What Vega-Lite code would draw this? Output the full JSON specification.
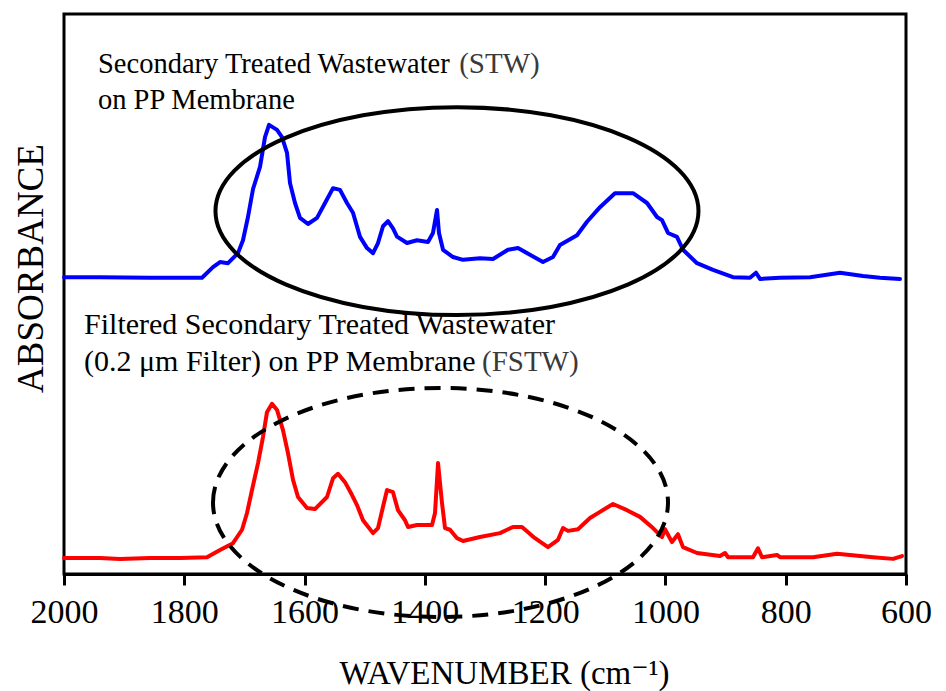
{
  "$schema": "https://vega.github.io/schema/vega-lite/v6.json",
  "width": 842,
  "height": 560,
  "autosize": {"type": "none"},
  "padding": {"left": 64, "top": 14, "right": 40, "bottom": 117},
  "background": "white",
  "config": {"view": {"stroke": "black", "strokeWidth": 3}, "font": "'Liberation Serif', 'Times New Roman', Times, 'DejaVu Serif', serif"},
  "datasets": {
    "spectra": [
      {"wavenumber": 2000, "absorbance": 0.530, "sample": "STW"},
      {"wavenumber": 1940.1, "absorbance": 0.530, "sample": "STW"},
      {"wavenumber": 1857, "absorbance": 0.529, "sample": "STW"},
      {"wavenumber": 1807.1, "absorbance": 0.529, "sample": "STW"},
      {"wavenumber": 1770.5, "absorbance": 0.529, "sample": "STW"},
      {"wavenumber": 1752.3, "absorbance": 0.548, "sample": "STW"},
      {"wavenumber": 1740.6, "absorbance": 0.557, "sample": "STW"},
      {"wavenumber": 1727.3, "absorbance": 0.555, "sample": "STW"},
      {"wavenumber": 1710.7, "absorbance": 0.573, "sample": "STW"},
      {"wavenumber": 1702.4, "absorbance": 0.596, "sample": "STW"},
      {"wavenumber": 1694.1, "absorbance": 0.6375, "sample": "STW"},
      {"wavenumber": 1685.7, "absorbance": 0.6875, "sample": "STW"},
      {"wavenumber": 1674.1, "absorbance": 0.727, "sample": "STW"},
      {"wavenumber": 1665.8, "absorbance": 0.780, "sample": "STW"},
      {"wavenumber": 1659.1, "absorbance": 0.802, "sample": "STW"},
      {"wavenumber": 1645.8, "absorbance": 0.793, "sample": "STW"},
      {"wavenumber": 1637.5, "absorbance": 0.780, "sample": "STW"},
      {"wavenumber": 1629.2, "absorbance": 0.752, "sample": "STW"},
      {"wavenumber": 1624.2, "absorbance": 0.698, "sample": "STW"},
      {"wavenumber": 1615.9, "absorbance": 0.6625, "sample": "STW"},
      {"wavenumber": 1607.6, "absorbance": 0.636, "sample": "STW"},
      {"wavenumber": 1594.3, "absorbance": 0.625, "sample": "STW"},
      {"wavenumber": 1579.3, "absorbance": 0.636, "sample": "STW"},
      {"wavenumber": 1566.0, "absorbance": 0.6625, "sample": "STW"},
      {"wavenumber": 1552.7, "absorbance": 0.689, "sample": "STW"},
      {"wavenumber": 1541.1, "absorbance": 0.686, "sample": "STW"},
      {"wavenumber": 1529.5, "absorbance": 0.6625, "sample": "STW"},
      {"wavenumber": 1519.5, "absorbance": 0.645, "sample": "STW"},
      {"wavenumber": 1507.8, "absorbance": 0.602, "sample": "STW"},
      {"wavenumber": 1496.2, "absorbance": 0.582, "sample": "STW"},
      {"wavenumber": 1486.2, "absorbance": 0.573, "sample": "STW"},
      {"wavenumber": 1477.9, "absorbance": 0.591, "sample": "STW"},
      {"wavenumber": 1469.6, "absorbance": 0.621, "sample": "STW"},
      {"wavenumber": 1461.3, "absorbance": 0.630, "sample": "STW"},
      {"wavenumber": 1453.0, "absorbance": 0.617, "sample": "STW"},
      {"wavenumber": 1446.3, "absorbance": 0.6025, "sample": "STW"},
      {"wavenumber": 1429.7, "absorbance": 0.591, "sample": "STW"},
      {"wavenumber": 1413.1, "absorbance": 0.596, "sample": "STW"},
      {"wavenumber": 1394.8, "absorbance": 0.593, "sample": "STW"},
      {"wavenumber": 1386.5, "absorbance": 0.609, "sample": "STW"},
      {"wavenumber": 1379.8, "absorbance": 0.650, "sample": "STW"},
      {"wavenumber": 1376.5, "absorbance": 0.609, "sample": "STW"},
      {"wavenumber": 1369.8, "absorbance": 0.579, "sample": "STW"},
      {"wavenumber": 1353.2, "absorbance": 0.566, "sample": "STW"},
      {"wavenumber": 1336.6, "absorbance": 0.561, "sample": "STW"},
      {"wavenumber": 1308.3, "absorbance": 0.564, "sample": "STW"},
      {"wavenumber": 1286.7, "absorbance": 0.5625, "sample": "STW"},
      {"wavenumber": 1261.8, "absorbance": 0.579, "sample": "STW"},
      {"wavenumber": 1245.1, "absorbance": 0.582, "sample": "STW"},
      {"wavenumber": 1225.2, "absorbance": 0.570, "sample": "STW"},
      {"wavenumber": 1203.6, "absorbance": 0.557, "sample": "STW"},
      {"wavenumber": 1187.0, "absorbance": 0.566, "sample": "STW"},
      {"wavenumber": 1175.3, "absorbance": 0.5875, "sample": "STW"},
      {"wavenumber": 1147.0, "absorbance": 0.605, "sample": "STW"},
      {"wavenumber": 1130.4, "absorbance": 0.629, "sample": "STW"},
      {"wavenumber": 1108.8, "absorbance": 0.655, "sample": "STW"},
      {"wavenumber": 1083.9, "absorbance": 0.680, "sample": "STW"},
      {"wavenumber": 1053.9, "absorbance": 0.680, "sample": "STW"},
      {"wavenumber": 1030.6, "absorbance": 0.6625, "sample": "STW"},
      {"wavenumber": 1014.0, "absorbance": 0.6375, "sample": "STW"},
      {"wavenumber": 1005.7, "absorbance": 0.632, "sample": "STW"},
      {"wavenumber": 995.7, "absorbance": 0.609, "sample": "STW"},
      {"wavenumber": 980.8, "absorbance": 0.602, "sample": "STW"},
      {"wavenumber": 970.8, "absorbance": 0.579, "sample": "STW"},
      {"wavenumber": 947.5, "absorbance": 0.555, "sample": "STW"},
      {"wavenumber": 920.9, "absorbance": 0.543, "sample": "STW"},
      {"wavenumber": 887.7, "absorbance": 0.530, "sample": "STW"},
      {"wavenumber": 859.4, "absorbance": 0.529, "sample": "STW"},
      {"wavenumber": 849.4, "absorbance": 0.538, "sample": "STW"},
      {"wavenumber": 842.8, "absorbance": 0.527, "sample": "STW"},
      {"wavenumber": 809.5, "absorbance": 0.529, "sample": "STW"},
      {"wavenumber": 759.6, "absorbance": 0.530, "sample": "STW"},
      {"wavenumber": 709.7, "absorbance": 0.538, "sample": "STW"},
      {"wavenumber": 671.5, "absorbance": 0.532, "sample": "STW"},
      {"wavenumber": 643.3, "absorbance": 0.529, "sample": "STW"},
      {"wavenumber": 610.0, "absorbance": 0.527, "sample": "STW"},
      {"wavenumber": 2000, "absorbance": 0.0286, "sample": "FSTW"},
      {"wavenumber": 1940.1, "absorbance": 0.0286, "sample": "FSTW"},
      {"wavenumber": 1906.9, "absorbance": 0.027, "sample": "FSTW"},
      {"wavenumber": 1857, "absorbance": 0.0286, "sample": "FSTW"},
      {"wavenumber": 1807.1, "absorbance": 0.0286, "sample": "FSTW"},
      {"wavenumber": 1762.2, "absorbance": 0.030, "sample": "FSTW"},
      {"wavenumber": 1740.6, "absorbance": 0.043, "sample": "FSTW"},
      {"wavenumber": 1719.0, "absorbance": 0.055, "sample": "FSTW"},
      {"wavenumber": 1704.0, "absorbance": 0.079, "sample": "FSTW"},
      {"wavenumber": 1695.7, "absorbance": 0.109, "sample": "FSTW"},
      {"wavenumber": 1687.4, "absorbance": 0.150, "sample": "FSTW"},
      {"wavenumber": 1677.4, "absorbance": 0.198, "sample": "FSTW"},
      {"wavenumber": 1669.1, "absorbance": 0.245, "sample": "FSTW"},
      {"wavenumber": 1662.5, "absorbance": 0.289, "sample": "FSTW"},
      {"wavenumber": 1654.2, "absorbance": 0.304, "sample": "FSTW"},
      {"wavenumber": 1645.8, "absorbance": 0.293, "sample": "FSTW"},
      {"wavenumber": 1635.9, "absorbance": 0.257, "sample": "FSTW"},
      {"wavenumber": 1627.6, "absorbance": 0.216, "sample": "FSTW"},
      {"wavenumber": 1619.2, "absorbance": 0.168, "sample": "FSTW"},
      {"wavenumber": 1610.9, "absorbance": 0.1375, "sample": "FSTW"},
      {"wavenumber": 1596.0, "absorbance": 0.118, "sample": "FSTW"},
      {"wavenumber": 1582.7, "absorbance": 0.116, "sample": "FSTW"},
      {"wavenumber": 1562.7, "absorbance": 0.1375, "sample": "FSTW"},
      {"wavenumber": 1552.7, "absorbance": 0.171, "sample": "FSTW"},
      {"wavenumber": 1544.4, "absorbance": 0.179, "sample": "FSTW"},
      {"wavenumber": 1532.8, "absorbance": 0.164, "sample": "FSTW"},
      {"wavenumber": 1521.1, "absorbance": 0.141, "sample": "FSTW"},
      {"wavenumber": 1512.8, "absorbance": 0.123, "sample": "FSTW"},
      {"wavenumber": 1502.8, "absorbance": 0.096, "sample": "FSTW"},
      {"wavenumber": 1486.2, "absorbance": 0.073, "sample": "FSTW"},
      {"wavenumber": 1477.9, "absorbance": 0.082, "sample": "FSTW"},
      {"wavenumber": 1469.6, "absorbance": 0.120, "sample": "FSTW"},
      {"wavenumber": 1462.9, "absorbance": 0.150, "sample": "FSTW"},
      {"wavenumber": 1453.0, "absorbance": 0.146, "sample": "FSTW"},
      {"wavenumber": 1444.7, "absorbance": 0.114, "sample": "FSTW"},
      {"wavenumber": 1433.0, "absorbance": 0.096, "sample": "FSTW"},
      {"wavenumber": 1428.0, "absorbance": 0.084, "sample": "FSTW"},
      {"wavenumber": 1413.1, "absorbance": 0.0875, "sample": "FSTW"},
      {"wavenumber": 1388.1, "absorbance": 0.0875, "sample": "FSTW"},
      {"wavenumber": 1383.1, "absorbance": 0.109, "sample": "FSTW"},
      {"wavenumber": 1378.1, "absorbance": 0.198, "sample": "FSTW"},
      {"wavenumber": 1371.5, "absorbance": 0.127, "sample": "FSTW"},
      {"wavenumber": 1366.5, "absorbance": 0.082, "sample": "FSTW"},
      {"wavenumber": 1358.2, "absorbance": 0.079, "sample": "FSTW"},
      {"wavenumber": 1346.5, "absorbance": 0.064, "sample": "FSTW"},
      {"wavenumber": 1336.6, "absorbance": 0.059, "sample": "FSTW"},
      {"wavenumber": 1308.3, "absorbance": 0.066, "sample": "FSTW"},
      {"wavenumber": 1275.1, "absorbance": 0.073, "sample": "FSTW"},
      {"wavenumber": 1253.5, "absorbance": 0.084, "sample": "FSTW"},
      {"wavenumber": 1238.5, "absorbance": 0.084, "sample": "FSTW"},
      {"wavenumber": 1216.9, "absorbance": 0.064, "sample": "FSTW"},
      {"wavenumber": 1195.3, "absorbance": 0.048, "sample": "FSTW"},
      {"wavenumber": 1178.6, "absorbance": 0.061, "sample": "FSTW"},
      {"wavenumber": 1170.3, "absorbance": 0.082, "sample": "FSTW"},
      {"wavenumber": 1162.0, "absorbance": 0.077, "sample": "FSTW"},
      {"wavenumber": 1145.4, "absorbance": 0.080, "sample": "FSTW"},
      {"wavenumber": 1125.4, "absorbance": 0.100, "sample": "FSTW"},
      {"wavenumber": 1108.8, "absorbance": 0.111, "sample": "FSTW"},
      {"wavenumber": 1087.2, "absorbance": 0.125, "sample": "FSTW"},
      {"wavenumber": 1063.9, "absorbance": 0.114, "sample": "FSTW"},
      {"wavenumber": 1042.3, "absorbance": 0.102, "sample": "FSTW"},
      {"wavenumber": 1020.7, "absorbance": 0.082, "sample": "FSTW"},
      {"wavenumber": 1005.7, "absorbance": 0.066, "sample": "FSTW"},
      {"wavenumber": 1000.7, "absorbance": 0.080, "sample": "FSTW"},
      {"wavenumber": 989.1, "absorbance": 0.057, "sample": "FSTW"},
      {"wavenumber": 979.1, "absorbance": 0.071, "sample": "FSTW"},
      {"wavenumber": 970.8, "absorbance": 0.048, "sample": "FSTW"},
      {"wavenumber": 947.5, "absorbance": 0.0375, "sample": "FSTW"},
      {"wavenumber": 909.3, "absorbance": 0.032, "sample": "FSTW"},
      {"wavenumber": 900.9, "absorbance": 0.0375, "sample": "FSTW"},
      {"wavenumber": 896.0, "absorbance": 0.030, "sample": "FSTW"},
      {"wavenumber": 854.4, "absorbance": 0.030, "sample": "FSTW"},
      {"wavenumber": 846.1, "absorbance": 0.046, "sample": "FSTW"},
      {"wavenumber": 839.4, "absorbance": 0.030, "sample": "FSTW"},
      {"wavenumber": 814.5, "absorbance": 0.034, "sample": "FSTW"},
      {"wavenumber": 809.5, "absorbance": 0.030, "sample": "FSTW"},
      {"wavenumber": 754.6, "absorbance": 0.030, "sample": "FSTW"},
      {"wavenumber": 714.7, "absorbance": 0.036, "sample": "FSTW"},
      {"wavenumber": 654.9, "absorbance": 0.030, "sample": "FSTW"},
      {"wavenumber": 621.6, "absorbance": 0.027, "sample": "FSTW"},
      {"wavenumber": 606.7, "absorbance": 0.032, "sample": "FSTW"}
    ],
    "labels": [
      {"label": "Secondary Treated Wastewater", "wavenumber": 1943.5, "absorbance": 0.8946, "group": "STW", "part": "main"},
      {"label": "(STW)", "wavenumber": 1343.0, "absorbance": 0.8946, "group": "STW", "part": "abbr"},
      {"label": "on PP Membrane", "wavenumber": 1943.5, "absorbance": 0.8304, "group": "STW", "part": "main"},
      {"label": "Filtered Secondary Treated Wastewater", "wavenumber": 1966.7, "absorbance": 0.4286, "group": "FSTW", "part": "main"},
      {"label": "(0.2 μm Filter) on PP Membrane", "wavenumber": 1966.7, "absorbance": 0.3625, "group": "FSTW", "part": "main"},
      {"label": "(FSTW)", "wavenumber": 1305.0, "absorbance": 0.3625, "group": "FSTW", "part": "abbr"}
    ],
    "ellipses": [
      {"wavenumber": 1346.6, "absorbance": 0.648, "kind": "STW"},
      {"wavenumber": 1374.0, "absorbance": 0.1277, "kind": "FSTW"}
    ]
  },
  "encoding": {
    "x": {
      "field": "wavenumber",
      "type": "quantitative",
      "scale": {"domain": [600, 2000], "reverse": true, "nice": false, "zero": false},
      "axis": {
        "values": [2000, 1800, 1600, 1400, 1200, 1000, 800, 600],
        "format": "d",
        "title": "WAVENUMBER (cm⁻¹)",
        "grid": false,
        "domainColor": "black",
        "domainWidth": 3,
        "tickColor": "black",
        "tickWidth": 3,
        "tickSize": 11,
        "labelFont": "'Liberation Serif', 'Times New Roman', Times, 'DejaVu Serif', serif",
        "labelFontSize": 34,
        "labelColor": "black",
        "labelPadding": 10,
        "labelFlush": false,
        "labelOverlap": false,
        "labelBound": false,
        "titleFont": "'Liberation Serif', 'Times New Roman', Times, 'DejaVu Serif', serif",
        "titleFontSize": 33,
        "titleFontWeight": "normal",
        "titleColor": "black",
        "titleBaseline": "alphabetic",
        "titleAlign": "center",
        "titleX": 440,
        "titleY": 109
      }
    },
    "y": {
      "field": "absorbance",
      "type": "quantitative",
      "scale": {"domain": [0, 1], "nice": false, "zero": false},
      "axis": {
        "title": "ABSORBANCE",
        "grid": false,
        "domain": false,
        "ticks": false,
        "labels": false,
        "titleFont": "'Liberation Serif', 'Times New Roman', Times, 'DejaVu Serif', serif",
        "titleFontSize": 37,
        "titleFontWeight": "normal",
        "titleColor": "black",
        "titleAngle": -90,
        "titleBaseline": "alphabetic",
        "titleAlign": "center",
        "titleX": -22,
        "titleY": 254
      }
    }
  },
  "layer": [
    {
      "data": {"name": "spectra"},
      "mark": {"type": "line", "strokeWidth": 4, "strokeJoin": "round", "strokeCap": "round"},
      "encoding": {
        "color": {"field": "sample", "type": "nominal", "scale": {"domain": ["STW", "FSTW"], "range": ["#0000ff", "#ff0000"]}, "legend": null}
      }
    },
    {
      "data": {"name": "labels"},
      "transform": [{"filter": "datum.group === 'STW' && datum.part === 'main'"}],
      "mark": {"type": "text", "align": "left", "baseline": "alphabetic", "font": "'Liberation Serif', 'Times New Roman', Times, 'DejaVu Serif', serif", "fontSize": 28.5, "color": "black"},
      "encoding": {"text": {"field": "label"}}
    },
    {
      "data": {"name": "labels"},
      "transform": [{"filter": "datum.group === 'FSTW' && datum.part === 'main'"}],
      "mark": {"type": "text", "align": "left", "baseline": "alphabetic", "font": "'Liberation Serif', 'Times New Roman', Times, 'DejaVu Serif', serif", "fontSize": 30, "color": "black"},
      "encoding": {"text": {"field": "label"}}
    },
    {
      "data": {"name": "labels"},
      "transform": [{"filter": "datum.part === 'abbr'"}],
      "mark": {"type": "text", "align": "left", "baseline": "alphabetic", "font": "'Liberation Serif', 'Times New Roman', Times, 'DejaVu Serif', serif", "fontSize": 29, "color": "#3a3a3a"},
      "encoding": {"text": {"field": "label"}}
    },
    {
      "data": {"name": "ellipses"},
      "transform": [{"filter": "datum.kind === 'STW'"}],
      "mark": {
        "type": "point",
        "shape": "M -1 0 C -1 -0.2378 -0.5523 -0.4306 0 -0.4306 C 0.5523 -0.4306 1 -0.2378 1 0 C 1 0.2378 0.5523 0.4306 0 0.4306 C -0.5523 0.4306 -1 0.2378 -1 0 Z",
        "size": 233289,
        "filled": false,
        "color": "black",
        "strokeWidth": 4,
        "opacity": 1
      }
    },
    {
      "data": {"name": "ellipses"},
      "transform": [{"filter": "datum.kind === 'FSTW'"}],
      "mark": {
        "type": "point",
        "shape": "M -1 0 C -1 -0.278 -0.5523 -0.5033 0 -0.5033 C 0.5523 -0.5033 1 -0.278 1 0 C 1 0.278 0.5523 0.5033 0 0.5033 C -0.5523 0.5033 -1 0.278 -1 0 Z",
        "size": 207025,
        "filled": false,
        "color": "black",
        "strokeWidth": 4,
        "strokeDash": [16, 10],
        "opacity": 1
      }
    }
  ]
}
